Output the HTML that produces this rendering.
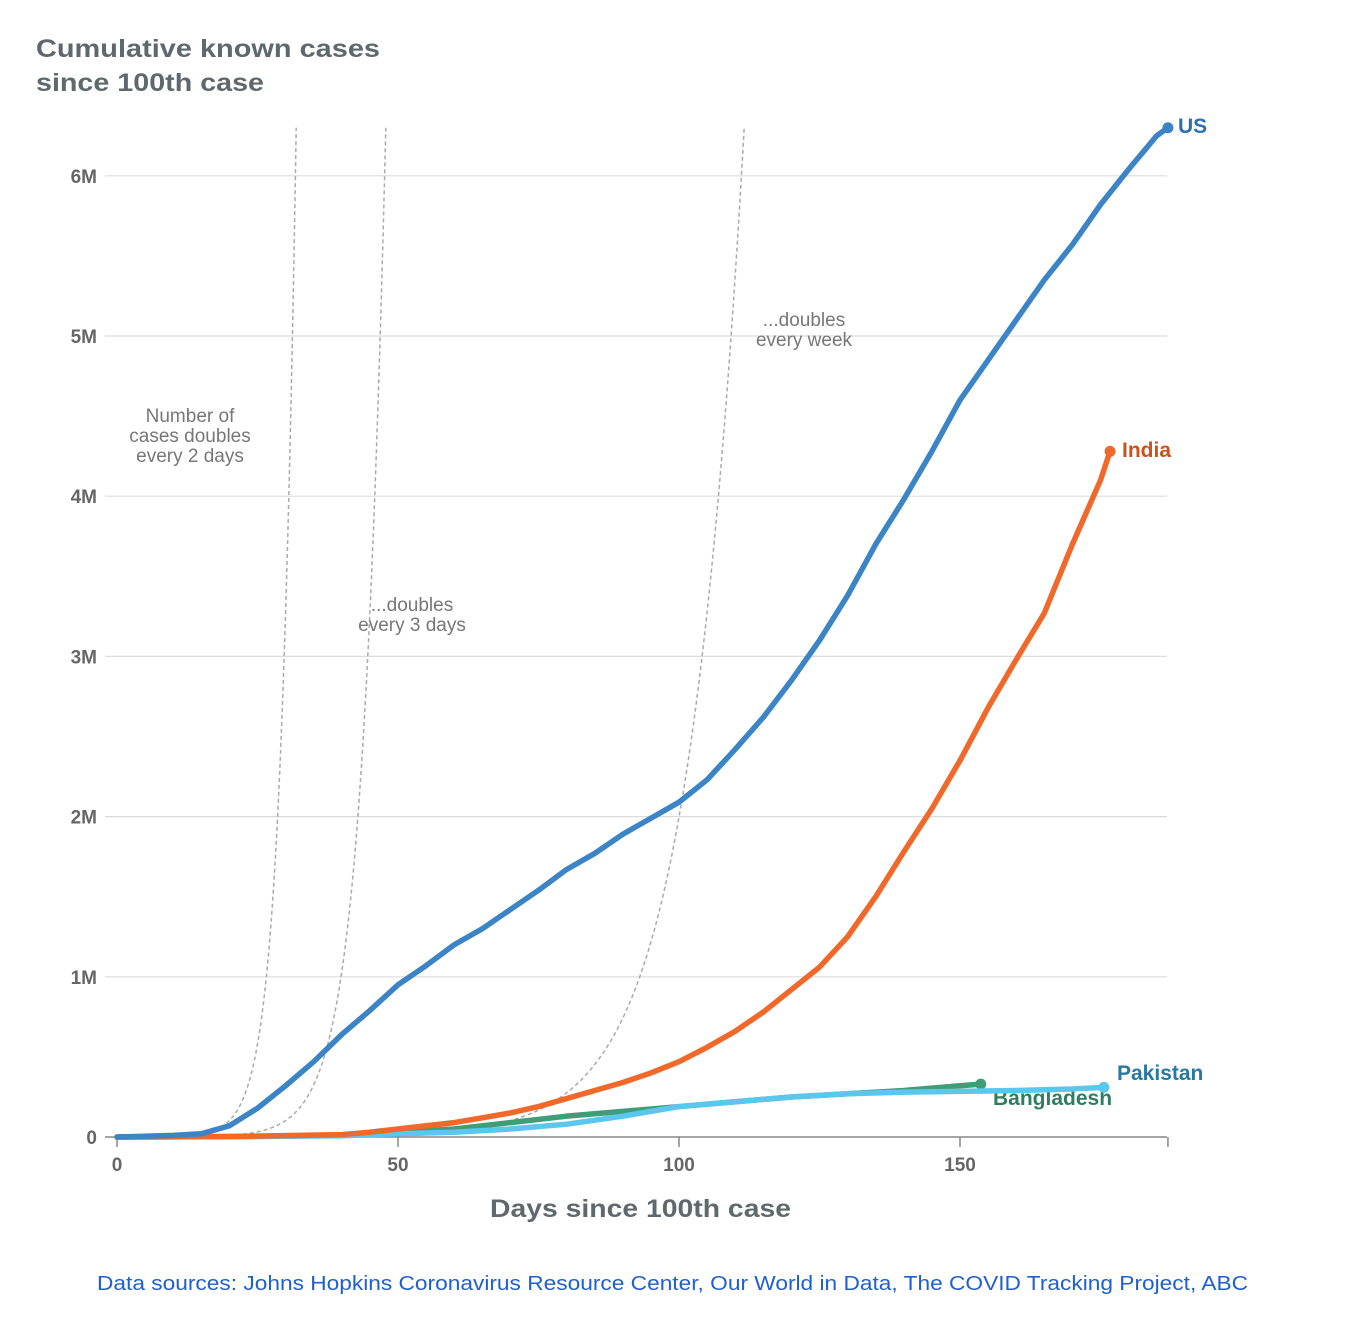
<!DOCTYPE html>
<html><head><meta charset="utf-8"><style>
body{margin:0;background:#fff;width:1358px;height:1315px;overflow:hidden;font-family:"Liberation Sans",sans-serif}
</style></head><body>
<svg id="chart" width="1358" height="1315">
<text x="36" y="57" font-size="25" font-weight="bold" fill="#5f686d" textLength="344" lengthAdjust="spacingAndGlyphs">Cumulative known cases</text>
<text x="36" y="91" font-size="25" font-weight="bold" fill="#5f686d" textLength="228" lengthAdjust="spacingAndGlyphs">since 100th case</text>
<g id="grid"></g><g id="ref"></g><g id="series"></g>
<text x="490" y="1217" font-size="25" font-weight="bold" fill="#5f686d" textLength="301" lengthAdjust="spacingAndGlyphs">Days since 100th case</text>
<text x="97" y="1290" font-size="20" fill="#1f5fd0" textLength="1151" lengthAdjust="spacingAndGlyphs">Data sources: Johns Hopkins Coronavirus Resource Center, Our World in Data, The COVID Tracking Project, ABC</text>
</svg>
<script>
const yTicks=[0,1,2,3,4,5,6];
const yTickLabels=["0","1M","2M","3M","4M","5M","6M"];
const xTicks=[0,50,100,150];
const usDays=[0,10,15,20,25,30,35,40,45,50,55,60,65,70,75,80,85,90,95,100,105,110,115,120,125,130,135,140,145,150,155,160,165,170,175,180,185,187];
const usVals=[0,0.01,0.02,0.07,0.18,0.32,0.47,0.64,0.79,0.95,1.07,1.2,1.3,1.42,1.54,1.67,1.77,1.89,1.99,2.09,2.23,2.42,2.62,2.85,3.1,3.38,3.7,3.98,4.28,4.6,4.85,5.1,5.35,5.57,5.82,6.04,6.25,6.3];
const indiaDays=[0,20,40,45,50,55,60,65,70,75,80,85,90,95,100,105,110,115,120,125,130,135,140,145,150,155,160,165,170,175,176.7];
const indiaVals=[0,0.003,0.015,0.03,0.05,0.07,0.09,0.12,0.15,0.19,0.24,0.29,0.34,0.4,0.47,0.56,0.66,0.78,0.92,1.06,1.25,1.5,1.78,2.05,2.35,2.68,2.98,3.27,3.7,4.1,4.28];
const bangDays=[0,20,40,50,60,70,80,90,100,110,120,130,140,150,153.7];
const bangVals=[0,0.002,0.01,0.03,0.05,0.09,0.13,0.16,0.19,0.22,0.25,0.27,0.29,0.32,0.33];
const pakDays=[0,20,40,50,60,70,80,90,100,110,120,130,140,150,160,170,175.6];
const pakVals=[0,0.002,0.008,0.02,0.03,0.05,0.08,0.13,0.19,0.22,0.25,0.27,0.28,0.285,0.29,0.3,0.31];
const doublings=[2,3,7];
const NS="http://www.w3.org/2000/svg";
const X=d=>117+d*5.62, Y=v=>1137-v*160.2;
function mk(t,a,p){const e=document.createElementNS(NS,t);for(const k in a)e.setAttribute(k,a[k]);p.appendChild(e);return e;}
const grid=document.getElementById('grid');
yTicks.forEach((v,i)=>{
 const l=mk('line',{x1:105,x2:1167,y1:Y(v),y2:Y(v),stroke:v?'#dcdcdc':'#888','stroke-width':v?1.2:1.5},grid);
 
 
 const t=mk('text',{x:97,y:Y(v)+7,'text-anchor':'end','font-size':19,'font-weight':'bold',fill:'#666'},grid);
 t.textContent=yTickLabels[i];
 
 
});
xTicks.concat([187]).forEach(d=>{
 const l=mk('line',{x1:X(d),x2:X(d),y1:1137,y2:1147,stroke:'#888','stroke-width':1.5},grid);
 
 
});
xTicks.forEach(d=>{
 const t=mk('text',{x:X(d),y:1171,'text-anchor':'middle','font-size':19,'font-weight':'bold',fill:'#666'},grid);
 t.textContent=d;
 
 
});
const ref=document.getElementById('ref');
doublings.forEach(dd=>{
 let pts=[];
 for(let t=0;;t+=0.2){const v=100*Math.pow(2,t/dd)/1e6; if(v>6.3){const tt=dd*Math.log2(63000);pts.push([X(tt),Y(6.3)]);break;} pts.push([X(t),Y(v)]);}
 const p=mk('path',{d:'M'+pts.map(p=>p.join(',')).join('L'),fill:'none',stroke:'#aaa','stroke-width':1.5,'stroke-dasharray':'4,3'},ref);
 
 
});
const notes=[[190,422,['Number of','cases doubles','every 2 days']],[412,611,['...doubles','every 3 days']],[804,326,['...doubles','every week']]];
notes.forEach(n=>{n[2].forEach((s,i)=>{
 const t=mk('text',{x:n[0],y:n[1]+i*20,'text-anchor':'middle','font-size':19,fill:'#777'},ref);
 t.textContent=s;
 
 
});});
const ser=document.getElementById('series');
function series(days,vals,col,name,lbl,lx,ly){
 const p=mk('path',{d:'M'+days.map((d,i)=>X(d)+','+Y(vals[i])).join('L'),fill:'none',stroke:col,'stroke-width':5.5,'stroke-linejoin':'round','stroke-linecap':'round'},ser);
 
 
 const n=days.length-1;
 const c=mk('circle',{cx:X(days[n]),cy:Y(vals[n]),r:5.5,fill:col},ser);
 
 
 const t=mk('text',{x:lx,y:ly,'font-size':21,'font-weight':'bold',fill:lbl},ser);
 t.textContent=name==='us'?'US':name[0].toUpperCase()+name.slice(1);
 
 
}
series(bangDays,bangVals,'#3f9d78','bangladesh','#2f7f5f',993,1105);
series(pakDays,pakVals,'#5bc6ee','pakistan','#2a78a0',1117,1080);
series(indiaDays,indiaVals,'#f0692a','india','#d0501a',1122,457);
series(usDays,usVals,'#3b84c6','us','#2e6fae',1178,133);
</script>
</body></html>
